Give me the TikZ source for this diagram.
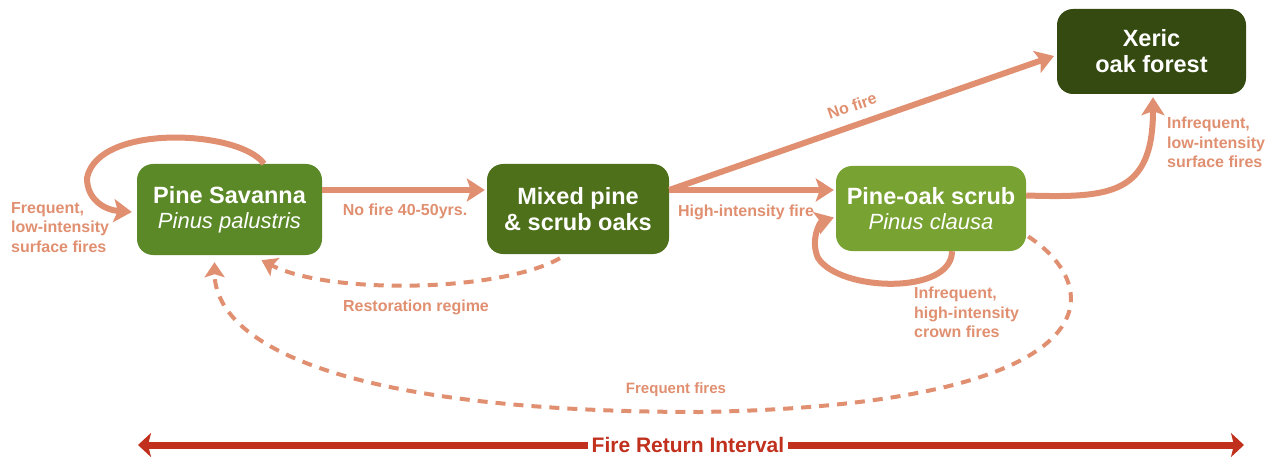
\documentclass[tikz,border=0pt]{standalone}
\usepackage{fontspec}
\setmainfont{Liberation Sans}
\usetikzlibrary{arrows.meta,calc}
\definecolor{arr}{RGB}{224,143,112}
\definecolor{psg}{RGB}{91,137,40}
\definecolor{mxg}{RGB}{78,112,26}
\definecolor{pog}{RGB}{120,162,50}
\definecolor{xqg}{RGB}{52,74,16}
\definecolor{fri}{RGB}{192,48,28}
\begin{document}
\begin{tikzpicture}[x=1pt,y=-1pt,
  box/.style={rounded corners=16pt, text=white, align=center, inner sep=0pt,
    font=\fontsize{23.5}{26}\selectfont\bfseries},
  lab/.style={text=arr, font=\fontsize{16}{19.5}\selectfont\bfseries, align=left, inner sep=0pt},
  flow/.style={draw=arr, line width=6pt, -{Stealth[length=18pt,width=23pt,inset=4pt]}},
  dflow/.style={draw=arr, line width=4pt, dash pattern=on 10pt off 8pt,
    -{Stealth[length=15pt,width=20pt,inset=3pt]}},
  fr/.style={draw=fri, line width=7pt, -{Stealth[length=13pt,width=24pt,inset=3pt]}}
]
\useasboundingbox (0,0) rectangle (1282,457);

% boxes
\node[box, fill=psg, minimum width=185pt, minimum height=91pt] (ps) at (229.5,209.5)
  {Pine Savanna\\[-1pt]{\fontsize{22}{26}\selectfont\mdseries\itshape Pinus palustris}};
\node[box, fill=mxg, minimum width=182pt, minimum height=90pt] (mx) at (578,209)
  {Mixed pine\\\&{} scrub oaks};
\node[box, fill=pog, minimum width=190pt, minimum height=85pt] (po) at (931,208.5)
  {Pine-oak scrub\\[-1pt]{\fontsize{22}{26}\selectfont\mdseries\itshape Pinus clausa}};
\node[box, fill=xqg, minimum width=189pt, minimum height=85pt] (xq) at (1151.5,51.5)
  {Xeric\\oak forest};

% solid connectors
\draw[flow] ($(ps.north)+(34.5,0)$) .. controls (240,130) and (98,123) .. (87,178)
  .. controls (87,200) and (105,210) .. ($(ps.west)+(-5,2.5)$);
\draw[flow, shorten >=2pt] ($(ps.east)+(0,-19.5)$) -- ($(mx.west)+(0,-19)$);
\draw[flow, shorten >=2pt] ($(mx.east)+(0,-19)$) -- ($(po.west)+(0,-18.5)$);
\draw[flow, shorten >=3pt] ($(mx.east)+(0,-19)$) -- ($(xq.west)+(0,3.5)$);
\draw[flow] ($(po.east)+(0,-13)$) .. controls (1110,198) and (1153,195) .. ($(xq.south)+(1.5,3)$);
\draw[flow] ($(po.south)+(21,0)$) .. controls (952,295) and (840,292) .. (818,258)
  .. controls (810,240) and (820,222) .. ($(po.west)+(-2,9)$);

% dashed connectors
\draw[dflow] ($(mx.south)+(-18,4)$) .. controls (500,292) and (330,295) .. ($(ps.south)+(32,5)$);
\draw[dflow] ($(po.east)+(2,28)$) .. controls (1110,290) and (1110,405) .. (700,412)
  .. controls (330,412) and (215,340) .. ($(ps.south)+(-15,7)$);

% labels
\node[lab, anchor=north west] (l1) at (11,202) {Frequent,\\low-intensity\\surface fires};
\node[lab] (l2) at (405,211) {No fire 40-50yrs.};
\node[lab] (l3) at (746,212) {High-intensity fire};
\node[lab] (l4) at (416,307) {Restoration regime};
\node[lab, rotate=19.3] (l5) at (852,106) {No fire};
\node[lab, anchor=north west] (l6) at (1167,117) {Infrequent,\\low-intensity\\surface fires};
\node[lab, anchor=north west] (l7) at (914,287) {Infrequent,\\high-intensity\\crown fires};
\node[lab, font=\fontsize{15}{17}\selectfont\bfseries] (l8) at (676,390) {Frequent fires};

% fire return interval
\node[text=fri, font=\fontsize{21}{24}\selectfont\bfseries, inner sep=4pt] (fri) at (688,445) {Fire Return Interval};
\coordinate (fl) at (138,445);
\coordinate (frr) at (1244,445);
\draw[fr] (fri.west) -- (fl);
\draw[fr] (fri.east) -- (frr);
\end{tikzpicture}
\end{document}
